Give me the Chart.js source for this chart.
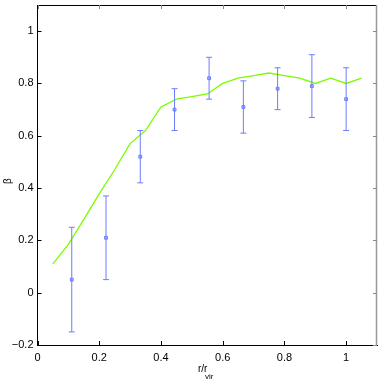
<!DOCTYPE html>
<html><head><meta charset="utf-8">
<script src="https://cdn.jsdelivr.net/npm/chart.js@4/dist/chart.umd.min.js"></script>
<style>html,body{margin:0;padding:0;background:#fff}#wrap{width:382px;height:382px}</style>
</head><body><div id="wrap"><canvas id="c" width="382" height="382"></canvas></div>
<script>
// model curve (green)
const modelR    = [0.05,0.10,0.15,0.20,0.25,0.30,0.35,0.40,0.45,0.50,0.55,0.60,0.65,0.70,0.75,0.80,0.85,0.90,0.95,1.00,1.05];
const modelBeta = [0.11,0.185,0.28,0.378,0.47,0.57,0.62,0.71,0.74,0.75,0.76,0.80,0.82,0.83,0.84,0.83,0.82,0.80,0.82,0.80,0.82];
// measured points with error bars
const dataR     = [0.111,0.222,0.333,0.444,0.556,0.667,0.778,0.889,1.0];
const dataBeta  = [0.05,0.21,0.52,0.70,0.82,0.71,0.78,0.79,0.74];
const dataHi    = [0.25,0.37,0.62,0.78,0.90,0.81,0.86,0.91,0.86];
const dataLo    = [-0.15,0.05,0.42,0.62,0.74,0.61,0.70,0.67,0.62];
// axis ticks
const xTicks = [0,0.2,0.4,0.6,0.8,1];
const yTicks = [-0.2,0,0.2,0.4,0.6,0.8,1];

const FONT = "'Liberation Sans Narrow','Liberation Sans',Arial,sans-serif";
const blue = '#6b7cff';

const fmt = v => { const s = String(Math.round(v*10)/10); return s.replace('-', '\u2212'); };

const framePlugin = {
  id:'frame',
  afterDatasetsDraw(chart){
    const {ctx, chartArea:a, scales:{x,y}} = chart;
    ctx.save();
    ctx.strokeStyle = blue; ctx.lineWidth = 1;
    for (let i=0;i<dataR.length;i++){
      const px = x.getPixelForValue(dataR[i]);
      const t = y.getPixelForValue(dataHi[i]);
      const b = y.getPixelForValue(dataLo[i]);
      ctx.beginPath();
      ctx.moveTo(px,t); ctx.lineTo(px,b);
      ctx.moveTo(px-3,t); ctx.lineTo(px+3,t);
      ctx.moveTo(px-3,b); ctx.lineTo(px+3,b);
      ctx.stroke();
    }
    ctx.restore();
  },
  afterDraw(chart){
    const {ctx, chartArea:a, scales:{x,y}} = chart;
    ctx.save();
    ctx.lineWidth = 1;
    ctx.strokeStyle = '#000';
    ctx.beginPath(); ctx.moveTo(a.left, a.top+0.5); ctx.lineTo(a.right, a.top+0.5); ctx.stroke();
    ctx.strokeStyle = '#999';
    ctx.lineWidth = 1.5;
    ctx.beginPath(); ctx.moveTo(a.right-0.5, a.top); ctx.lineTo(a.right-0.5, a.bottom); ctx.stroke();
    ctx.lineWidth = 1;
    const L = 4;
    xTicks.forEach(v=>{
      const px = Math.round(x.getPixelForValue(v))+0.5;
      ctx.strokeStyle = '#000';
      ctx.beginPath(); ctx.moveTo(px,a.bottom); ctx.lineTo(px,a.bottom-L); ctx.stroke();
      ctx.strokeStyle = '#888';
      ctx.beginPath(); ctx.moveTo(px,a.top); ctx.lineTo(px,a.top+L); ctx.stroke();
    });
    yTicks.forEach(v=>{
      const py = Math.round(y.getPixelForValue(v))+0.5;
      ctx.strokeStyle = '#000';
      ctx.beginPath(); ctx.moveTo(a.left,py); ctx.lineTo(a.left+L,py); ctx.stroke();
      ctx.strokeStyle = '#888';
      ctx.beginPath(); ctx.moveTo(a.right,py); ctx.lineTo(a.right-L,py); ctx.stroke();
    });
    ctx.fillStyle = '#000';
    ctx.font = "10px " + FONT;
    ctx.textBaseline = 'alphabetic';
    ctx.textAlign = 'left';
    ctx.fillText('r/r', 198, 372);
    ctx.font = "8px " + FONT;
    ctx.fillText('vir', 205, 379);
    ctx.translate(11, 181);
    ctx.rotate(-Math.PI/2);
    ctx.textAlign = 'center';
    ctx.font = "10px " + FONT;
    ctx.fillText('\u03b2', 0, 0);
    ctx.restore();
  }
};

new Chart(document.getElementById('c'), {
  type:'scatter',
  data:{
    datasets:[
      { type:'line', data: modelR.map((r,i)=>({x:r,y:modelBeta[i]})), borderColor:'#7cfc00', borderWidth:1.3,
        pointRadius:0, tension:0, fill:false, order:1 },
      { type:'scatter', data: dataR.map((r,i)=>({x:r,y:dataBeta[i]})), pointStyle:'rect', pointRadius:2,
        borderColor:blue, backgroundColor:'rgba(190,200,255,0.8)', borderWidth:1, order:0 }
    ]
  },
  options:{
    responsive:false, animation:false, devicePixelRatio:1,
    layout:{padding:{top:4, right:2, left:0, bottom:0}},
    plugins:{legend:{display:false}, tooltip:{enabled:false}},
    scales:{
      x:{ type:'linear', min:0, max:1.1,
          afterBuildTicks: s => { s.ticks = xTicks.map(v=>({value:v})); },
          afterFit: s => { s.height = 37; s.paddingLeft = 0; s.paddingRight = 0; },
          grid:{display:false, drawTicks:false},
          border:{display:true, color:'#000', width:1},
          ticks:{ color:'#000', font:{size:11, family:FONT}, padding:6, maxRotation:0, callback: v=>fmt(v) } },
      y:{ type:'linear', min:-0.2, max:1.1,
          afterBuildTicks: s => { s.ticks = yTicks.map(v=>({value:v})); },
          afterFit: s => { s.width = 37.5; s.paddingTop = 0; s.paddingBottom = 0; },
          grid:{display:false, drawTicks:false},
          border:{display:true, color:'#000', width:1},
          ticks:{ color:'#000', font:{size:11, family:FONT}, padding:4, callback: v=>fmt(v) } }
    }
  },
  plugins:[framePlugin]
});
</script></body></html>
